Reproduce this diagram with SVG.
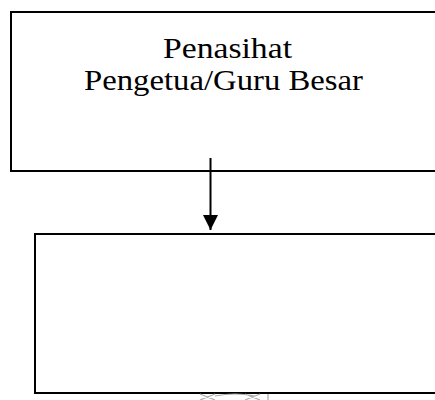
<svg xmlns="http://www.w3.org/2000/svg" width="435" height="400" viewBox="0 0 435 400">
<style>
.box{fill:#fff;stroke:#000;stroke-width:2}
.lbl{font-family:"Liberation Serif","Times New Roman",serif;font-size:29px;fill:#000}
.conn{stroke:#000;stroke-width:2;fill:none}
</style>
<defs>
<marker id="ah" markerUnits="userSpaceOnUse" markerWidth="16" markerHeight="16" refX="15" refY="7.5" orient="auto">
<path d="M0,0 L15,7.5 L0,15 Z" fill="#000"/>
</marker>
</defs>
<rect width="435" height="400" fill="#fff"/>
<g id="node-penasihat">
<rect class="box" x="11" y="12" width="440" height="159"/>
<text class="lbl" x="163" y="58" textLength="129" lengthAdjust="spacingAndGlyphs">Penasihat</text>
<text class="lbl" x="84" y="90" textLength="279" lengthAdjust="spacingAndGlyphs">Pengetua/Guru Besar</text>
</g>
<g id="node-bottom">
<rect class="box" x="35" y="234" width="420" height="159"/>
</g>
<g id="connectors">
<line class="conn" x1="210.5" y1="158" x2="210.5" y2="230" marker-end="url(#ah)"/>
</g>
<g id="watermark" stroke="#aaa" stroke-width="1.2" fill="none">
<path d="M200,394 L215,400 M215,394 L200,400 M215,396 Q235,392 255,396 M245,394 L260,400 M260,394 L245,400 M268,394 L268,400"/>
</g>
</svg>
